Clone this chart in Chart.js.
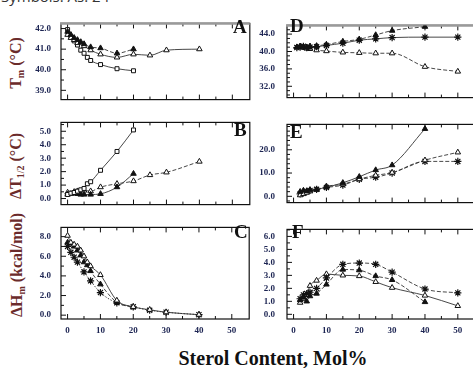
<!DOCTYPE html>
<html>
<head>
<meta charset="utf-8">
<script src="https://cdn.jsdelivr.net/npm/chart.js@4.4.0/dist/chart.umd.min.js"></script>
<style>
body{margin:0;width:473px;height:368px;overflow:hidden;background:#fff;position:relative}
canvas{position:absolute}
.top{position:absolute;left:1px;top:-14px;font:15px "Open Sans",sans-serif;color:#333;white-space:nowrap}
.ylab{position:absolute;width:140px;height:20px;line-height:20px;text-align:center;font:bold 16px "Liberation Serif",serif;color:#6b2b2b;transform:rotate(-90deg);white-space:nowrap}
.ylab sub{font-size:10px;vertical-align:-3px}
.letter{position:absolute;font:bold 19px "Liberation Serif",serif;line-height:1;color:#111}
.xlab{position:absolute;left:172px;top:347px;width:202px;text-align:center;font:bold 20px "Liberation Serif",serif;color:#111;white-space:nowrap}
</style>
</head>
<body>
<div class="top">Symbols: As. 24</div>
<div class="ylab" style="left:-53px;top:53px">T<sub>m</sub> (°C)</div>
<div class="ylab" style="left:-53px;top:156px">ΔT<sub>1/2</sub> (°C)</div>
<div class="ylab" style="left:-52px;top:255px">ΔH<sub>m</sub> (kcal/mol)</div>
<div class="xlab">Sterol Content, Mol%</div>

<script>
// x ticks (sterol mol%)
const xMajor = [0, 10, 20, 30, 40, 50]
const xMinor = [5, 15, 25, 35, 45]

// Panel A : Tm
const aX1 = [0, 1, 2, 3, 4, 5, 7, 10, 15, 20]
const aY1 = [41.85, 41.7, 41.55, 41.45, 41.35, 41.25, 41.1, 41.05, 40.8, 41.0]
const aX2 = [0, 1, 2, 3, 5, 7, 10, 15, 20, 25, 30, 40]
const aY2 = [41.7, 41.55, 41.45, 41.3, 41.15, 40.95, 40.75, 40.6, 40.75, 40.7, 40.95, 41.0]
const aX3 = [0, 1, 2, 3, 4, 5, 6, 7, 10, 15, 20]
const aY3 = [41.95, 41.6, 41.4, 41.2, 40.95, 40.8, 40.6, 40.45, 40.25, 40.05, 39.95]
const aTicks = [39, 40, 41, 42]

// Panel B : dT1/2
const bX1 = [0, 1, 2, 3, 4, 5, 6, 7, 10, 15, 20]
const bY1 = [0.3, 0.4, 0.45, 0.55, 0.65, 0.75, 1.1, 1.25, 2.1, 3.5, 5.1]
const bX2 = [0, 1, 2, 3, 4, 5, 7, 10, 15, 20]
const bY2 = [0.3, 0.35, 0.4, 0.35, 0.3, 0.3, 0.3, 0.35, 0.85, 1.85]
const bX3 = [0, 2, 3, 5, 7, 10, 15, 20, 25, 30, 40]
const bY3 = [0.45, 0.5, 0.55, 0.6, 0.55, 0.85, 1.1, 1.3, 1.75, 1.95, 2.75]
const bTicks = [0, 1, 2, 3, 4, 5]

// Panel C : dHm
const cX1 = [0, 1, 2, 3, 4, 5, 6, 7, 10, 15, 20, 25, 30, 40]
const cY1 = [8.1, 7.4, 7.2, 7.0, 6.6, 6.0, 5.4, 5.0, 4.1, 1.5, 0.85, 0.55, 0.3, 0.05]
const cX2 = [0, 1, 2, 3, 4, 5, 6, 7, 10, 15, 20]
const cY2 = [7.4, 7.3, 7.0, 6.6, 6.1, 5.4, 5.1, 4.5, 3.15, 1.3, 0.8]
const cX3 = [0, 1, 2, 3, 5, 7, 10, 15, 20, 25, 30, 40]
const cY3 = [7.0, 6.4, 5.9, 5.4, 4.4, 3.5, 2.3, 1.25, 0.85, 0.5, 0.3, 0.05]
const cTicks = [0, 2, 4, 6, 8]

// Panel D : Tm
const dX1 = [1, 2, 3, 4, 5, 7, 10, 15, 20, 25, 30, 40]
const dY1 = [41.0, 41.2, 41.1, 41.0, 41.2, 41.3, 41.6, 42.3, 42.8, 43.8, 44.8, 45.7]
const dX2 = [1, 2, 3, 4, 5, 7, 10, 15, 20, 25, 30, 40, 50]
const dY2 = [40.9, 41.0, 41.2, 40.9, 41.0, 41.1, 41.4, 41.9, 42.6, 42.9, 43.2, 43.3, 43.3]
const dX3 = [1, 2, 3, 4, 5, 7, 10, 15, 20, 25, 30, 40, 50]
const dY3 = [41.0, 41.1, 40.9, 40.7, 40.6, 40.3, 40.1, 39.8, 39.7, 39.6, 39.6, 36.5, 35.4]
const dTicks = [32, 36, 40, 44]

// Panel E : dT1/2
const eX1 = [2, 3, 4, 5, 7, 10, 15, 20, 25, 30, 40]
const eY1 = [2.0, 2.5, 2.3, 2.8, 3.0, 3.9, 5.8, 8.4, 11.3, 13.4, 29.0]
const eX2 = [2, 3, 4, 5, 7, 10, 15, 20, 25, 30, 40, 50]
const eY2 = [0.5, 1.0, 1.6, 2.2, 2.8, 4.3, 5.2, 7.4, 9.0, 10.2, 15.5, 18.9]
const eX3 = [2, 3, 4, 5, 7, 10, 15, 20, 25, 30, 40, 50]
const eY3 = [1.0, 1.5, 2.0, 2.5, 3.0, 3.8, 4.8, 7.3, 8.2, 10.0, 15.0, 15.0]
const eTicks = [0, 10, 20]

// Panel F : dHm
const fX1 = [2, 3, 4, 5, 7, 10, 15, 20, 25, 30, 40, 50]
const fY1 = [1.2, 1.5, 1.6, 1.7, 2.0, 2.8, 3.85, 3.95, 3.85, 3.25, 1.95, 1.65]
const fX2 = [2, 3, 4, 5, 7, 10, 15, 20, 25, 30, 40]
const fY2 = [1.1, 1.3, 1.0, 1.4, 1.6, 2.3, 3.45, 3.4, 2.95, 2.65, 0.95]
const fX3 = [2, 3, 4, 5, 7, 10, 15, 20, 25, 30, 40, 50]
const fY3 = [0.9, 1.2, 1.5, 2.2, 2.6, 3.1, 3.0, 2.95, 2.5, 2.05, 1.45, 0.65]
const fTicks = [0, 1, 2, 3, 4, 5, 6]

const tickColor = '#1c2452'
const tickFont = {family: '"Liberation Serif", serif', weight: 'bold', size: 9}

// marker styles
const filledTri = {pointStyle: 'triangle', pointBackgroundColor: '#111', pointRadius: 3.2}
const openTri = {pointStyle: 'triangle', pointBackgroundColor: '#fff', pointRadius: 3.2}
const openSq = {pointStyle: 'rect', pointBackgroundColor: '#fff', pointRadius: 2.8}
const star = {pointStyle: 'star', pointBackgroundColor: '#111', pointRadius: 3.6, pointBorderWidth: 1.2}
const solid = [], dashed = [4, 2], dotted = [1.5, 1.5]

function pts(xs, ys){
  return xs.map((x, i) => ({x: x, y: ys[i]}))
}

function series(xs, ys, marker, dash){
  return Object.assign({
    data: pts(xs, ys),
    borderColor: '#333',
    borderWidth: 0.9,
    borderDash: dash,
    cubicInterpolationMode: 'monotone',
    pointBorderColor: '#111',
    pointBorderWidth: 1,
    pointHoverRadius: 0
  }, marker)
}

function minorTicks(lo, hi, step){
  let out = []
  for(let v = lo; v <= hi + 1e-9; v += step) out.push(Math.round(v * 100) / 100)
  return out
}

function panel(box, datasets, yRange, yMajor, yStep, opt){
  const cv = document.createElement('canvas')
  cv.width = box.w; cv.height = box.h
  cv.style.left = box.l + 'px'; cv.style.top = box.t + 'px'
  cv.style.width = box.w + 'px'; cv.style.height = box.h + 'px'
  document.body.appendChild(cv)
  const yAll = minorTicks(Math.ceil(yRange[0] / yStep) * yStep, yRange[1], yStep)
  const xAll = xMajor.concat(xMinor).sort((a, b) => a - b)

  // box + inward tick marks
  const frame = {
    id: 'frame',
    beforeDatasetsDraw(chart){
      const {ctx, chartArea: a, scales: {x, y}} = chart
      const line = (x1, y1, x2, y2) => { ctx.beginPath(); ctx.moveTo(x1, y1); ctx.lineTo(x2, y2); ctx.stroke() }
      ctx.save()
      ctx.strokeStyle = '#111'
      ctx.lineWidth = 1.2
      ctx.strokeRect(a.left, a.top, a.right - a.left, a.bottom - a.top)
      ctx.lineWidth = 1
      x.ticks.forEach(t => {
        const px = x.getPixelForValue(t.value)
        const len = xMajor.includes(t.value) ? 5 : 3
        line(px, a.bottom, px, a.bottom - len)
        line(px, a.top, px, a.top + len)
      })
      y.ticks.forEach(t => {
        const py = y.getPixelForValue(t.value)
        const len = yMajor.includes(t.value) ? 5 : 3
        line(a.left, py, a.left + len, py)
      })
      if(opt.grayTop){
        ctx.strokeStyle = '#9a9a9a'
        ctx.lineWidth = 2.5
        line(a.left - 1, a.top, a.right, a.top)
      }
      ctx.restore()
    }
  }

  new Chart(cv, {
    type: 'line',
    data: {datasets: datasets},
    options: {
      responsive: false,
      animation: false,
      devicePixelRatio: 1,
      layout: {padding: {top: 5, right: 2, bottom: opt.showX ? 0 : 3, left: 0}},
      plugins: {legend: {display: false}, tooltip: {enabled: false}},
      scales: {
        x: {
          type: 'linear', min: -2, max: opt.xMax,
          grid: {display: false, drawTicks: false}, border: {display: false},
          afterBuildTicks: s => { s.ticks = xAll.map(v => ({value: v})) },
          afterFit: s => { s.height = opt.showX ? 20 : 0 },
          ticks: {display: opt.showX, padding: 6, color: tickColor, font: tickFont, autoSkip: false, maxRotation: 0,
            callback: v => xMajor.includes(v) ? String(v) : ''}
        },
        y: {
          type: 'linear', min: yRange[0], max: yRange[1],
          grid: {display: false, drawTicks: false}, border: {display: false},
          afterBuildTicks: s => { s.ticks = yAll.map(v => ({value: v})) },
          afterFit: s => { s.width = opt.yw },
          ticks: {padding: opt.pad, color: tickColor, font: tickFont, autoSkip: false,
            callback: v => yMajor.includes(v) ? v.toFixed(1) : ''}
        }
      }
    },
    plugins: [frame]
  })
}

const L = {xMax: 55.3, yw: 61, pad: 10}
const R = {xMax: 55.9, yw: 34, pad: 12}

panel({l: 0, t: 8, w: 254, h: 107}, [
  series(aX1, aY1, filledTri, dashed),
  series(aX2, aY2, openTri, solid),
  series(aX3, aY3, openSq, solid)
], [38.55, 42.25], aTicks, 0.5, Object.assign({grayTop: true}, L))

panel({l: 0, t: 107, w: 254, h: 113}, [
  series(bX1, bY1, openSq, solid),
  series(bX2, bY2, filledTri, solid),
  series(bX3, bY3, openTri, dashed)
], [-0.45, 5.66], bTicks, 0.5, L)

panel({l: 0, t: 212, w: 254, h: 127}, [
  series(cX1, cY1, openTri, solid),
  series(cX2, cY2, filledTri, dashed),
  series(cX3, cY3, star, dotted)
], [-0.39, 8.94], cTicks, 1, Object.assign({showX: true}, L))

panel({l: 253, t: 8, w: 229, h: 107}, [
  series(dX1, dY1, filledTri, dashed),
  series(dX2, dY2, star, solid),
  series(dX3, dY3, openTri, dashed)
], [29.4, 46.0], dTicks, 1, Object.assign({grayTop: true}, R))

panel({l: 253, t: 107, w: 229, h: 113}, [
  series(eX1, eY1, filledTri, solid),
  series(eX2, eY2, openTri, dashed),
  series(eX3, eY3, star, dashed)
], [-2.7, 30.9], eTicks, 2, R)

panel({l: 253, t: 212, w: 229, h: 127}, [
  series(fX1, fY1, star, dashed),
  series(fX2, fY2, filledTri, dashed),
  series(fX3, fY3, openTri, solid)
], [-0.36, 6.54], fTicks, 0.5, Object.assign({showX: true}, R))
</script>
<div class="letter" style="left:233px;top:17px">A</div>
<div class="letter" style="left:234px;top:120px">B</div>
<div class="letter" style="left:234px;top:222px">C</div>
<div class="letter" style="left:290px;top:16px">D</div>
<div class="letter" style="left:290px;top:122px">E</div>
<div class="letter" style="left:292px;top:222px">F</div>
</body>
</html>
